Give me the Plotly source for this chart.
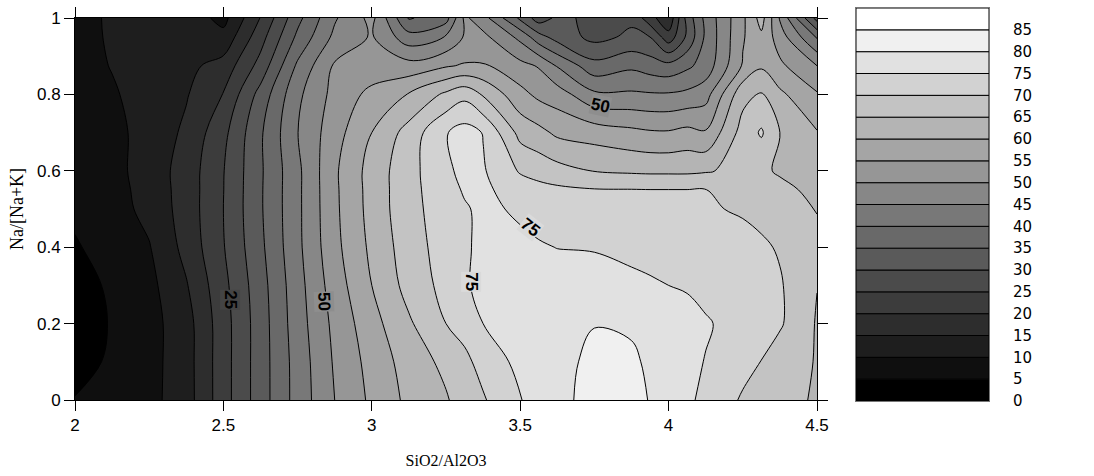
import plotly.graph_objects as go

# ---- data (grid of the contoured surface) ----
x_vals = [2.0, 2.125, 2.25, 2.375, 2.5, 2.625, 2.75, 2.875, 3.0, 3.125, 3.25, 3.3125, 3.375,
          3.5, 3.5625, 3.625, 3.75, 3.875, 3.9375, 4.0, 4.0625, 4.125, 4.25, 4.3125, 4.375, 4.5]
y_vals = [0.0, 0.1, 0.2, 0.3, 0.4, 0.5, 0.55, 0.6, 0.7, 0.8, 0.875, 0.95, 1.0]

row_y000 = [5.3, 7, 8.5, 12.8, 22.9, 32.6, 42, 50, 56, 61.2, 64.5, 67.3, 69.5, 74.8, 76.8, 78.4, 82, 82, 79.7, 77.7, 75.9, 73.8, 69.4, 67.9, 66.5, 64.5]
row_y010 = [2.5, 6, 8.3, 12.9, 22.9, 32.6, 42.1, 50.6, 56.8, 62.2, 66.3, 68.9, 71.6, 76.5, 77.2, 78, 81.5, 81, 79, 77, 76.3, 74.8, 71.6, 69.9, 67.5, 64.7]
row_y020 = [1.5, 5.5, 8.2, 13.0, 22.9, 32.6, 42.7, 51.3, 58.2, 64.3, 70, 71.7, 75, 77.5, 77.8, 78, 79.8, 79.2, 78, 76.5, 76.5, 75.5, 73, 72, 70.6, 64.6]
row_y030 = [2.5, 6, 8.6, 14.6, 23.6, 33, 43.1, 52.5, 60, 66.8, 71.6, 74.3, 76.5, 77.5, 77.5, 77.5, 78.3, 76.2, 75.5, 75, 74.6, 73.5, 72.5, 71.5, 70.5, 65.1]
row_y040 = [4.5, 7.1, 9.7, 16.6, 24.7, 33.9, 43.8, 53.6, 61.1, 67.7, 72.2, 74.4, 76, 76, 75.5, 74.9, 74.5, 73.7, 73.6, 73.2, 72.8, 72.3, 71.5, 70.8, 69.5, 66.3]
row_y050 = [6, 8, 11.4, 17.2, 25, 34.4, 43.9, 54, 61.8, 68.4, 72.5, 74.5, 76, 74.3, 73, 72.3, 71.7, 71.4, 71.2, 71, 70.8, 70.5, 69.5, 68.5, 67.5, 64.8]
row_y055 = [6.5, 8.2, 11.8, 17.2, 24.9, 34.4, 43.9, 54.1, 61.9, 68.4, 73.1, 75.5, 76, 72.5, 71.5, 71, 70.3, 70.2, 70.1, 70.1, 70.1, 70.1, 68, 67, 66.5, 63.5]
row_y060 = [7, 8.5, 12.1, 17.2, 24.8, 34.3, 43.9, 54.2, 62, 68.3, 73.9, 76.5, 75.5, 69.5, 68.2, 66.8, 64.8, 64.2, 64, 64, 64, 64.5, 66.5, 66, 64.3, 62.5]
row_y070 = [7.5, 8.8, 11.6, 16, 23.6, 34.3, 44.9, 53, 60, 67, 74.7, 77, 74.8, 63.4, 61.5, 59, 57.8, 56.3, 55.6, 55.5, 56.5, 55.5, 67, 70.6, 65, 60.3]
row_y080 = [8, 9.5, 11.9, 14.6, 20.2, 31.8, 43.9, 51.6, 56.4, 60.3, 66, 68.5, 64.5, 56.6, 53.8, 52.5, 46, 45.8, 45.5, 45.5, 46.2, 48, 63.5, 65.5, 61, 55.5]
row_y0875 = [8.2, 10.2, 12, 13.7, 16.9, 26.8, 40.9, 50.7, 52, 51.9, 54.5, 55.5, 55.5, 51.5, 49.6, 44.6, 36.7, 39, 37.5, 36.6, 39, 42, 55.5, 59.3, 56, 50]
row_y095 = [8.5, 10.5, 11.5, 13.1, 11.5, 23, 36.1, 46.2, 50.5, 42, 45.3, 50.5, 51.4, 43.7, 37, 33, 28.5, 31, 30, 22, 31, 41, 54.5, 59, 52.5, 39.5]
row_y100 = [8.5, 10.6, 11.5, 12.8, 8.5, 20.2, 33.5, 44.4, 51.5, 34.5, 38, 51, 47, 34, 27.5, 31, 29, 29, 22, 16, 32, 41.5, 54, 62, 49.5, 28]

level_step = 5
band_bases = [0, 5, 10, 15, 20, 25, 30, 35, 40, 45, 50, 55, 60, 65, 70, 75, 80, 85]
colorbar_ticks = [0, 5, 10, 15, 20, 25, 30, 35, 40, 45, 50, 55, 60, 65, 70, 75, 80, 85]
x_ticks = [2, 2.5, 3, 3.5, 4, 4.5]
y_ticks = [0, 0.2, 0.4, 0.6, 0.8, 1]

# inline contour labels: (text, x, y)
label_texts = ["25", "50", "75", "75", "50"]
label_x = [2.521, 2.838, 3.333, 3.535, 3.77]
label_y = [0.262, 0.257, 0.309, 0.452, 0.772]

z = [row_y000, row_y010, row_y020, row_y030, row_y040, row_y050, row_y055,
     row_y060, row_y070, row_y080, row_y0875, row_y095, row_y100]

# ---- styling ----
def band_gray(base):
    g = int(round(255 * base / 85.0))
    return "rgb(%d,%d,%d)" % (g, g, g)

label_angles = [90, 88, 90, 38, 12]
label_bg = ["rgb(68,68,68)", "rgb(142,142,142)", "rgb(218,218,218)",
            "rgb(218,218,218)", "rgb(142,142,142)"]

W, H = 1094, 476
ML, MR, MT, MB = 75, W - 989, 8, H - 401
area_w = W - ML - MR
area_h = H - MT - MB

fig = go.Figure()
fig.add_trace(go.Contour(
    x=x_vals, y=y_vals, z=z,
    autocontour=False,
    contours=dict(start=5, end=85, size=level_step, coloring="fill", showlines=True),
    colorscale=[[0, "rgb(0,0,0)"], [1, "rgb(255,255,255)"]],
    line=dict(color="black", width=1, smoothing=1),
    showscale=False,
    hoverinfo="skip",
    xaxis="x", yaxis="y",
))

# colour key drawn as stacked bar segments
fig.add_trace(go.Bar(
    x=[0] * len(band_bases), y=[level_step] * len(band_bases), base=band_bases,
    width=1,
    marker=dict(color=[band_gray(b) for b in band_bases],
                line=dict(color="black", width=1)),
    hoverinfo="skip",
    xaxis="x2", yaxis="y2",
))

for t, lx, ly, ang, bg in zip(label_texts, label_x, label_y, label_angles, label_bg):
    fig.add_annotation(x=lx, y=ly, xref="x", yref="y", text="<b>" + t + "</b>",
                       showarrow=False, textangle=ang, bgcolor=bg, borderpad=0,
                       font=dict(family="Liberation Sans", size=17, color="black"))

axis_common = dict(showline=True, linecolor="black", linewidth=1, mirror="ticks",
                   ticks="outside", ticklen=10, tickcolor="black", tickwidth=1,
                   showgrid=False, zeroline=False, automargin=False,
                   tickfont=dict(family="Liberation Sans", size=17, color="black"))

fig.update_layout(
    width=W, height=H,
    margin=dict(l=ML, r=MR, t=MT, b=MB, autoexpand=False),
    paper_bgcolor="white", plot_bgcolor="white",
    showlegend=False, barmode="overlay",
    xaxis=dict(domain=[0, (817 - ML) / area_w], anchor="y",
               range=[2, 4.5], tickvals=x_ticks, ticktext=[str(v) for v in x_ticks],
               title=dict(text="SiO2/Al2O3", standoff=20,
                          font=dict(family="Liberation Serif", size=16, color="black")),
               **axis_common),
    yaxis=dict(domain=[(401 - 400) / area_h, (401 - 18) / area_h], anchor="x",
               range=[0, 1], tickvals=y_ticks, ticktext=[("%g" % v) for v in y_ticks],
               title=dict(text="Na/[Na+K]", standoff=8,
                          font=dict(family="Liberation Serif", size=18, color="black")),
               **axis_common),
    xaxis2=dict(domain=[(856 - ML) / area_w, 1], anchor="y2", range=[-0.5, 0.5],
                showticklabels=False, ticks="", showgrid=False, zeroline=False,
                automargin=False,
                showline=True, linecolor="#777", linewidth=1, mirror=True),
    yaxis2=dict(domain=[0, 1], anchor="x2", side="right", range=[0, 90],
                tickvals=colorbar_ticks, ticktext=[str(v) for v in colorbar_ticks],
                ticks="outside", ticklen=20, tickcolor="rgba(0,0,0,0)",
                showgrid=False, zeroline=False, automargin=False,
                showline=True, linecolor="#777", linewidth=1, mirror=True,
                tickfont=dict(family="DejaVu Sans", size=15, color="black")),
)

fig.write_html("out.html")
